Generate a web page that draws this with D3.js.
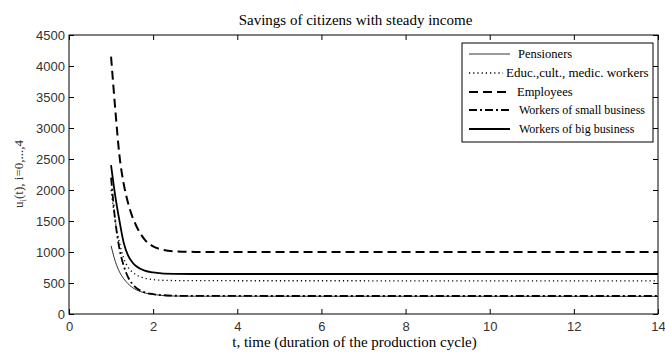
<!DOCTYPE html>
<html>
<head>
<meta charset="utf-8">
<script src="https://cdn.jsdelivr.net/npm/d3@7"></script>
<style>
body { margin: 0; background: #fff; }
</style>
</head>
<body>
<script>
var tValues = [1, 1.1, 1.2, 1.3, 1.4, 1.5, 1.6, 1.8, 2, 2.2, 2.5, 3, 14];
var pensioners = [1100, 850, 680, 570, 490, 430, 390, 340, 315, 300, 290, 287, 285];
var educ = [2000, 1500, 1150, 900, 760, 680, 630, 580, 555, 545, 540, 537, 535];
var employees = [4150, 3300, 2550, 2100, 1800, 1580, 1420, 1200, 1090, 1040, 1010, 1002, 1000];
var smallBiz = [2200, 1500, 1050, 780, 600, 490, 420, 350, 320, 305, 295, 291, 290];
var bigBiz = [2400, 1900, 1500, 1150, 950, 840, 770, 700, 670, 655, 648, 645, 645];
var seriesNames = ["Pensioners", "Educ.,cult., medic. workers", "Employees", "Workers of small business", "Workers of big business"];
var xTicks = [0, 2, 4, 6, 8, 10, 12, 14];
var yTicks = [0, 500, 1000, 1500, 2000, 2500, 3000, 3500, 4000, 4500];

function init() {
    var w = 665, h = 352;
    var left = 69, right = 658, top = 35, bottom = 314;

    var svg = d3.select("body").append("svg")
        .attr("width", w).attr("height", h);

    var x = d3.scaleLinear().domain([0, 14]).range([left, right]);
    var y = d3.scaleLinear().domain([0, 4500]).range([bottom, top]);

    // styles per series: width, dash
    var styles = [
        {sw: 0.8, dash: null},
        {sw: 1.3, dash: "1.2,3"},
        {sw: 2, dash: "9,5"},
        {sw: 1.8, dash: "8,3,2,3"},
        {sw: 1.8, dash: null}
    ];
    var allSeries = [pensioners, educ, employees, smallBiz, bigBiz];

    var line = d3.line()
        .x(function(d, i) { return x(tValues[i]); })
        .y(function(d) { return y(d); })
        .curve(d3.curveMonotoneX);

    svg.selectAll("path.series")
        .data(allSeries)
        .enter()
        .append("path")
        .attr("class", "series")
        .attr("d", line)
        .attr("fill", "none")
        .attr("stroke", "#000")
        .attr("stroke-width", function(d, i) { return styles[i].sw; })
        .attr("stroke-dasharray", function(d, i) { return styles[i].dash; });

    // axes (ticks inside, MATLAB style)
    var tickFont = "Liberation Sans, Arial, sans-serif";
    var serif = "Liberation Serif, Times New Roman, serif";
    svg.append("g")
        .attr("transform", "translate(0," + bottom + ")")
        .call(d3.axisBottom(x).tickValues(xTicks).tickSize(-5).tickPadding(8).tickFormat(d3.format("d")))
        .call(function(g) {
            g.select(".domain").remove();
            g.selectAll("text").style("font", "13px " + tickFont).attr("fill", "#333");
        });
    svg.append("g")
        .attr("transform", "translate(0," + top + ")")
        .call(d3.axisTop(x).tickValues(xTicks).tickSize(-5).tickFormat(""))
        .call(function(g) { g.select(".domain").remove(); });
    svg.append("g")
        .attr("transform", "translate(" + left + ",0)")
        .call(d3.axisLeft(y).tickValues(yTicks).tickSize(-5).tickPadding(4).tickFormat(d3.format("d")))
        .call(function(g) {
            g.select(".domain").remove();
            g.selectAll("text").style("font", "13px " + tickFont).attr("fill", "#333");
        });
    svg.append("g")
        .attr("transform", "translate(" + right + ",0)")
        .call(d3.axisRight(y).tickValues(yTicks).tickSize(-5).tickFormat(""))
        .call(function(g) { g.select(".domain").remove(); });

    svg.append("rect")
        .attr("x", left).attr("y", top)
        .attr("width", right - left).attr("height", bottom - top)
        .attr("fill", "none").attr("stroke", "#000").attr("stroke-width", 1);

    // title & labels
    svg.append("text")
        .attr("x", (left + right) / 2 - 8).attr("y", 25)
        .attr("text-anchor", "middle")
        .style("font", "15px " + serif)
        .text("Savings of citizens with steady income");

    svg.append("text")
        .attr("x", (left + right) / 2 - 9).attr("y", 347)
        .attr("text-anchor", "middle")
        .style("font", "15px " + serif)
        .text("t, time (duration of the production cycle)");

    var yl = svg.append("text")
        .attr("transform", "translate(23,174) rotate(-90)")
        .attr("text-anchor", "middle")
        .style("font", "13px " + serif)
        .attr("fill", "#333");
    yl.append("tspan").text("u");
    yl.append("tspan").attr("dy", 3).style("font-size", "9px").text("i");
    yl.append("tspan").attr("dy", -3).text("(t), i=0,...,4");

    // legend
    var lg = svg.append("g");
    lg.append("rect")
        .attr("x", 462).attr("y", 43).attr("width", 191).attr("height", 99)
        .attr("fill", "#fff").attr("stroke", "#000").attr("stroke-width", 1);
    var rowsY = [54, 73, 92, 110, 129];
    var lineEnd = [510, 503, 510, 510, 510];
    var textX = [518, 506, 517, 519, 519];
    var fsz = [12.5, 13, 12.5, 12, 12];
    seriesNames.forEach(function(name, i) {
        lg.append("line")
            .attr("x1", 469).attr("x2", lineEnd[i])
            .attr("y1", rowsY[i]).attr("y2", rowsY[i])
            .attr("stroke", "#000")
            .attr("stroke-width", styles[i].sw)
            .attr("stroke-dasharray", styles[i].dash);
        lg.append("text")
            .attr("x", textX[i]).attr("y", rowsY[i] + 4)
            .style("font", fsz[i] + "px " + serif)
            .text(name);
    });
}
window.onload = init;
</script>
</body>
</html>
